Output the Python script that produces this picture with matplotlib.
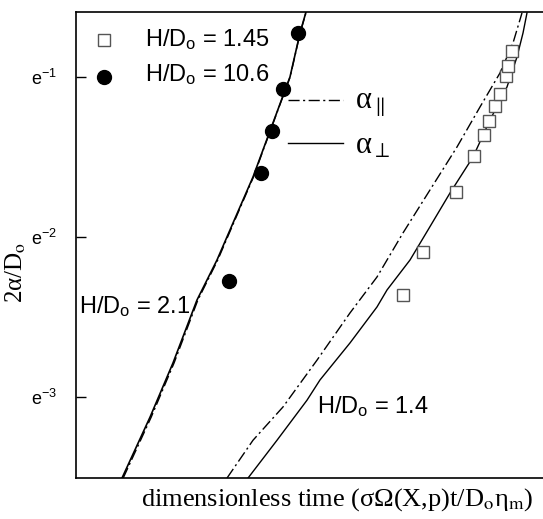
import numpy as np
import matplotlib
matplotlib.use("Agg")
import matplotlib.pyplot as plt

plt.rcParams['font.family'] = ['Liberation Sans', 'DejaVu Sans']
plt.rcParams['mathtext.fontset'] = 'custom'
plt.rcParams['mathtext.rm'] = 'Liberation Sans'
plt.rcParams['mathtext.it'] = 'Liberation Sans:italic'
plt.rcParams['mathtext.bf'] = 'Liberation Sans:bold'

# ---- data (dimensionless time, 2alpha/Do) ----
# H/Do = 2.1 model curves
t_21_perp = [0.985, 1.585, 2.077, 2.591, 3.019, 3.362, 3.790, 4.004, 4.582, 4.797, 4.925]
a_21_perp = [0.0300, 0.0439, 0.0616, 0.0913, 0.1172, 0.1477, 0.1969, 0.2332, 0.3679, 0.4843, 0.5521]
t_21_par = [1.010, 1.610, 2.100, 2.610, 3.035, 3.375, 3.800, 4.010, 4.585, 4.800, 4.928]
a_21_par = [0.0300, 0.0439, 0.0616, 0.0913, 0.1172, 0.1477, 0.1969, 0.2332, 0.3679, 0.4843, 0.5521]

# H/Do = 1.4 model curves
t_14_perp = [3.683, 4.304, 4.946, 5.225, 5.867, 6.445, 6.660, 7.152, 7.537, 8.009, 8.501,
             8.865, 9.229, 9.443, 9.572, 9.657]
a_14_perp = [0.0300, 0.0380, 0.0488, 0.0554, 0.0698, 0.0874, 0.0972, 0.1172, 0.1414, 0.1782,
             0.2231, 0.2811, 0.3456, 0.4169, 0.4843, 0.5488]
t_14_par = [3.233, 3.790, 4.433, 5.161, 5.867, 6.445, 7.002, 7.580, 8.158, 8.651, 9.079, 9.358, 9.550]
a_14_par = [0.0300, 0.0380, 0.0468, 0.0627, 0.0842, 0.1054, 0.1388, 0.1816, 0.2375, 0.3050,
            0.3772, 0.4550, 0.5488]

# experiments
t_145 = [7.002, 7.430, 8.137, 8.522, 8.737, 8.844, 8.972, 9.079, 9.208, 9.251, 9.336]
a_145 = [0.0942, 0.1232, 0.1792, 0.2245, 0.2560, 0.2794, 0.3070, 0.3309, 0.3701, 0.3942, 0.4328]
t_106 = [3.276, 3.961, 4.197, 4.433, 4.754]
a_106 = [0.1028, 0.2019, 0.2625, 0.3413, 0.4843]

ytick_vals = [np.exp(-3), np.exp(-2), np.exp(-1)]
ytick_labels = [r'e$^{-3}$', r'e$^{-2}$', r'e$^{-1}$']

# ---- figure ----
fig = plt.figure(figsize=(5.43, 5.19), dpi=100)
ax = fig.add_axes([76/543, 41/519, 467/543, 466/519])

dashdot = (0, (8, 2.5, 1.5, 2.5))
lw = 1.0
ax.plot(t_21_par, a_21_par, color='black', lw=lw, ls=dashdot)
ax.plot(t_21_perp, a_21_perp, color='black', lw=1.2, ls='-')
ax.plot(t_14_par, a_14_par, color='black', lw=lw, ls=dashdot)
ax.plot(t_14_perp, a_14_perp, color='black', lw=lw, ls='-')

ax.plot(t_145, a_145, ls='none', marker='s', ms=8, mfc='white', mec='#555555', mew=1.0)
ax.plot(t_106, a_106, ls='none', marker='o', ms=10, mfc='black', mec='black')

ax.set_yscale('log', base=np.e)
ax.set_xlim(0, 10.0)
ax.set_ylim(np.exp(-3.506), np.exp(-0.594))
ax.set_yticks(ytick_vals)
ax.set_yticklabels(ytick_labels)
ax.yaxis.set_minor_locator(matplotlib.ticker.NullLocator())
ax.set_xticks([])
ax.tick_params(axis='y', direction='in', length=7, width=1.0, pad=14, labelsize=13)

for s in ['left', 'bottom', 'top']:
    ax.spines[s].set_linewidth(1.2)
ax.spines['right'].set_visible(False)

# legend (manual)
tr = ax.transAxes
ax.plot([0.060], [0.940], transform=tr, ls='none', marker='s', ms=8, mfc='white',
        mec='#555555', mew=1.0, clip_on=False)
ax.plot([0.060], [0.8605], transform=tr, ls='none', marker='o', ms=10, mfc='black',
        mec='black', clip_on=False)
ax.text(0.1478, 0.927, r'H/D$_{\rm o}$ = 1.45', transform=tr, fontsize=17, va='baseline')
ax.text(0.1478, 0.851, r'H/D$_{\rm o}$ = 10.6', transform=tr, fontsize=17, va='baseline')

serif_fam = ['Liberation Serif', 'DejaVu Serif']
ax.plot([0.454, 0.572], [0.811, 0.811], transform=tr, color='black', lw=lw, ls=dashdot)
ax.plot([0.454, 0.572], [0.719, 0.719], transform=tr, color='black', lw=lw, ls='-')
ax.text(0.597, 0.794, r'α$_{\parallel}$', transform=tr, fontsize=22, va='baseline',
        family=serif_fam, math_fontfamily='stix')
ax.text(0.597, 0.695, r'α$_{\perp}$', transform=tr, fontsize=22, va='baseline',
        family=serif_fam, math_fontfamily='stix')

ax.text(0.0064, 0.354, r'H/D$_{\rm o}$ = 2.1', transform=tr, fontsize=17, va='baseline')
ax.text(0.516, 0.1395, r'H/D$_{\rm o}$ = 1.4', transform=tr, fontsize=17, va='baseline')

serif = {'family': serif_fam}
xl = ax.set_xlabel(r'dimensionless time (σΩ(X,p)t/D$_{\rm o}$η$_{\rm m}$)',
                   fontdict=serif, fontsize=19, va='center')
xl.set_math_fontfamily('stix')
ax.xaxis.set_label_coords(0.56, -0.047)
yl = ax.set_ylabel(r'2α/D$_{\rm o}$', fontdict=serif, fontsize=18, va='center')
yl.set_math_fontfamily('stix')
ax.yaxis.set_label_coords(-0.128, 0.442)

fig.savefig('out.png', dpi=100)
